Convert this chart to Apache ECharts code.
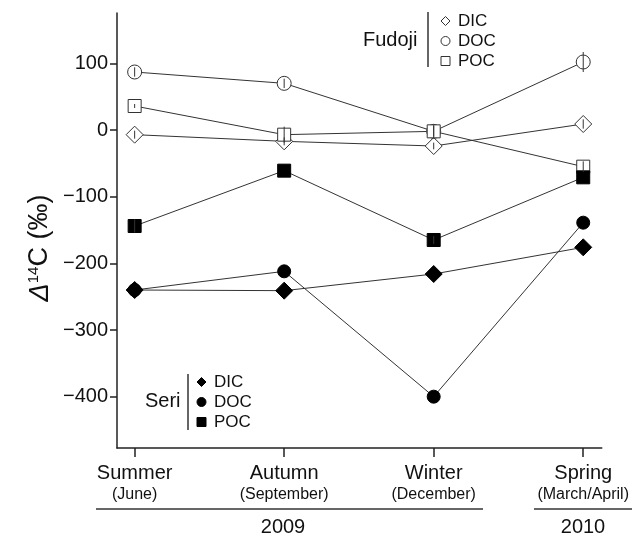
<!DOCTYPE html>
<html>
<head>
<meta charset="utf-8">
<script src="https://cdn.jsdelivr.net/npm/echarts@6/dist/echarts.min.js"></script>
<style>html,body{margin:0;padding:0;background:#fff}#c{width:632px;height:537px}</style>
</head>
<body>
<div id="c"></div>
<script>
// ---- data ----
const seasons = ['Summer', 'Autumn', 'Winter', 'Spring'];
const months = ['(June)', '(September)', '(December)', '(March/April)'];
const years = ['2009', '2010'];
const yTicks = [-400, -300, -200, -100, 0, 100];

const fudojiDIC = [-7, -17, -24, 9];
const fudojiDOC = [87, 70, -2, 102];
const fudojiPOC = [36, -7, -2, -55];
const seriDIC = [-240, -241, -216, -176];
const seriDOC = [-240, -212, -400, -139];
const seriPOC = [-144, -61, -165, -71];

const fudojiDICerr = [6, 6, 5, 7];
const fudojiDOCerr = [7, 7, 10, 15];
const fudojiPOCerr = [3, 12, 8, 8];
const seriPOCerr = [10, 0, 6, 0];

const FONT = 'Liberation Sans, Arial, Helvetica, sans-serif';
const INK = '#222';

function pts(arr) { return arr.map((v, i) => [i, v]); }

function lineSeries(name, arr, symbol, size, filled) {
  return {
    name: name, type: 'line', data: pts(arr),
    symbol: symbol, symbolSize: size, showAllSymbol: true,
    lineStyle: { color: '#333', width: 1 },
    itemStyle: { color: filled ? '#000' : '#fff', borderColor: filled ? '#000' : '#333', borderWidth: 1 },
    emphasis: { disabled: true }, animation: false, z: 3
  };
}

function errData(vals, errs) {
  const out = [];
  vals.forEach((v, i) => { if (errs[i] > 0) out.push([i, v - errs[i], v + errs[i]]); });
  return out;
}

const errSeries = {
  type: 'custom', name: 'err', silent: true, animation: false, z: 5,
  data: [].concat(
    errData(fudojiDIC, fudojiDICerr),
    errData(fudojiDOC, fudojiDOCerr),
    errData(fudojiPOC, fudojiPOCerr),
    errData(seriPOC, seriPOCerr)
  ),
  encode: { x: 0, y: [1, 2] },
  renderItem: function (params, api) {
    const a = api.coord([api.value(0), api.value(1)]);
    const b = api.coord([api.value(0), api.value(2)]);
    return { type: 'line', shape: { x1: a[0], y1: a[1], x2: b[0], y2: b[1] }, style: { stroke: '#333', lineWidth: 1 } };
  }
};

const chart = echarts.init(document.getElementById('c'), null, { renderer: 'canvas' });

function legendCfg(names, left, top) {
  return {
    orient: 'vertical', left: left, top: top, itemWidth: 9, itemHeight: 9, itemGap: 3, padding: 0,
    selectedMode: false,
    data: names.map((n, i) => ({ name: n, icon: ['diamond', 'circle', 'rect'][i] })),
    itemStyle: { borderWidth: 1 },
    formatter: function (n) { return n.split(' ')[1]; },
    textStyle: { fontSize: 17, lineHeight: 17, color: '#111', fontFamily: FONT, padding: [0, 0, 0, 3] }
  };
}

const option = {
  backgroundColor: '#fff',
  animation: false,
  textStyle: { fontFamily: FONT },
  grid: { left: 117, right: 30, top: 13, bottom: 89, containLabel: false },
  xAxis: {
    type: 'value', min: -0.118, max: 3.124,
    splitLine: { show: false },
    axisLine: { onZero: false, lineStyle: { color: INK, width: 1.5 } },
    axisTick: { show: true, length: 9, inside: false, customValues: [0, 1, 2, 3], lineStyle: { color: INK, width: 1.5 } },
    axisLabel: {
      customValues: [0, 1, 2, 3], margin: 14, color: '#111',
      formatter: function (v) { const i = Math.round(v); return '{a|' + seasons[i] + '}\n{b|' + months[i] + '}'; },
      rich: {
        a: { fontSize: 20, lineHeight: 22, fontFamily: FONT, color: '#111' },
        b: { fontSize: 16, lineHeight: 22, fontFamily: FONT, color: '#111' }
      }
    }
  },
  yAxis: {
    type: 'value', min: -477, max: 175.5,
    splitLine: { show: false },
    axisLine: { show: true, onZero: false, lineStyle: { color: INK, width: 1.5 } },
    axisTick: { show: true, length: 7, customValues: yTicks, lineStyle: { color: INK, width: 1.5 } },
    axisLabel: {
      customValues: yTicks, margin: 9, fontSize: 20, color: '#111', fontFamily: FONT,
      formatter: function (v) { return v < 0 ? '\u2212' + Math.abs(v) : String(v); }
    }
  },
  legend: [
    legendCfg(['Fudoji DIC', 'Fudoji DOC', 'Fudoji POC'], 440.5, 12.5),
    legendCfg(['Seri DIC', 'Seri DOC', 'Seri POC'], 196.5, 373.5)
  ],
  series: [
    lineSeries('Fudoji DIC', fudojiDIC, 'diamond', 17, false),
    lineSeries('Fudoji DOC', fudojiDOC, 'circle', 14, false),
    lineSeries('Fudoji POC', fudojiPOC, 'rect', 13, false),
    lineSeries('Seri DOC', seriDOC, 'circle', 13, true),
    lineSeries('Seri DIC', seriDIC, 'diamond', 17, true),
    lineSeries('Seri POC', seriPOC, 'rect', 13, true),
    errSeries
  ],
  graphic: [
    { type: 'text', left: 363, top: 30, style: { text: 'Fudoji', font: '20px ' + FONT, fill: '#111' } },
    { type: 'line', shape: { x1: 428, y1: 12, x2: 428, y2: 67 }, style: { stroke: '#333', lineWidth: 1.5 } },
    { type: 'text', left: 145, top: 391, style: { text: 'Seri', font: '20px ' + FONT, fill: '#111' } },
    { type: 'line', shape: { x1: 188, y1: 374, x2: 188, y2: 430 }, style: { stroke: '#333', lineWidth: 1.5 } },
    {
      type: 'text', x: 40, y: 248, rotation: Math.PI / 2,
      style: {
        text: '{d|Δ}{s|14}{n|C (‰)}', align: 'center', verticalAlign: 'middle',
        rich: {
          d: { fontSize: 27, fontStyle: 'italic', fontFamily: FONT, fill: '#111', verticalAlign: 'bottom' },
          s: { fontSize: 15, fontFamily: FONT, fill: '#111', verticalAlign: 'top', padding: [0, 0, 10, 0] },
          n: { fontSize: 27, fontFamily: FONT, fill: '#111', verticalAlign: 'bottom' }
        }
      }
    },
    { type: 'line', shape: { x1: 96, y1: 509, x2: 483, y2: 509 }, style: { stroke: '#333', lineWidth: 1.5 } },
    { type: 'line', shape: { x1: 534, y1: 509, x2: 632, y2: 509 }, style: { stroke: '#333', lineWidth: 1.5 } },
    { type: 'text', x: 283, y: 527, style: { text: years[0], font: '20px ' + FONT, fill: '#111', align: 'center', verticalAlign: 'middle' } },
    { type: 'text', x: 583, y: 527, style: { text: years[1], font: '20px ' + FONT, fill: '#111', align: 'center', verticalAlign: 'middle' } }
  ]
};
chart.setOption(option);
</script>
</body>
</html>
